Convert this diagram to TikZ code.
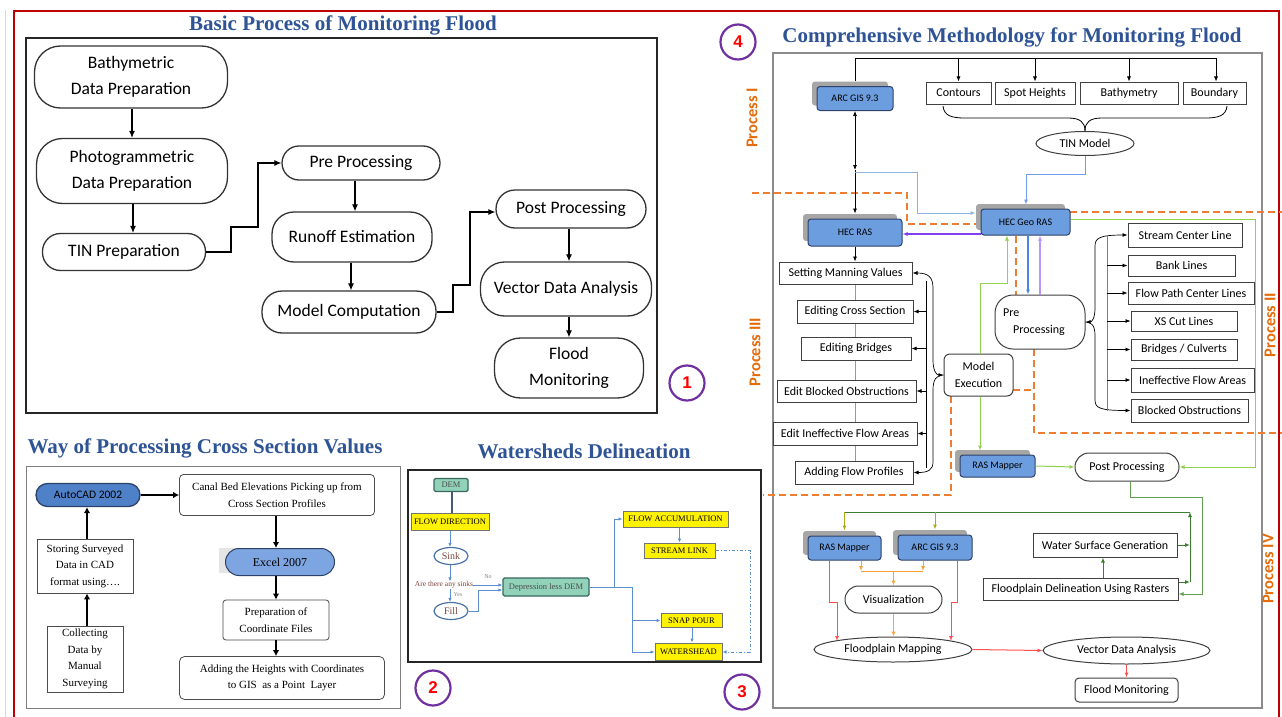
\documentclass[tikz,border=0pt]{standalone}
\usepackage{fontspec}
\setmainfont{Liberation Serif}
\newfontfamily\carl{Carlito}
\newfontfamily\lsans{Liberation Sans}
\usetikzlibrary{arrows.meta,shapes.geometric,shadows,calc}
\definecolor{ttlblue}{RGB}{46,84,150}
\definecolor{frred}{RGB}{192,0,0}
\definecolor{boxblue}{RGB}{108,157,222}
\definecolor{darkblue}{RGB}{79,129,200}
\definecolor{excelblue}{RGB}{125,165,225}
\definecolor{bordblue}{RGB}{45,65,105}
\definecolor{tealf}{RGB}{146,210,185}
\definecolor{tealb}{RGB}{55,105,95}
\definecolor{wline}{RGB}{91,143,208}
\definecolor{brownt}{RGB}{120,70,60}
\definecolor{procor}{RGB}{228,108,10}
\definecolor{dashor}{RGB}{237,125,49}
\definecolor{circp}{RGB}{112,48,160}
\definecolor{lgreen}{RGB}{146,208,80}
\definecolor{dgreen}{RGB}{60,125,50}
\definecolor{mgreen}{RGB}{100,160,80}
\definecolor{olivec}{RGB}{170,170,20}
\definecolor{redl}{RGB}{255,80,80}
\definecolor{orl}{RGB}{255,160,50}
\definecolor{viol}{RGB}{128,64,240}
\definecolor{lviol}{RGB}{185,150,255}
\definecolor{midblue}{RGB}{74,134,232}
\definecolor{lblue}{RGB}{141,180,226}
\definecolor{demline}{RGB}{70,90,120}
\tikzset{
  ttl/.style={text=ttlblue, font=\bfseries\fontsize{21}{24}\selectfont, inner sep=0pt},
  pa/.style={draw=black!80, line width=1.3pt, align=center, inner sep=0pt, font=\carl\fontsize{17.5}{25.5}\selectfont},
  aa/.style={line width=1.1pt, -{Latex[length=7pt,width=6pt]}},
  pb/.style={draw=black!70, line width=0.8pt, align=center, inner sep=0pt, font=\fontsize{11}{16.5}\selectfont},
  ab/.style={line width=2.2pt, -{Latex[length=6pt,width=6.5pt]}},
  yb/.style={draw=black!55, line width=1pt, fill=yellow, inner sep=0pt, font=\fontsize{8.5}{9}\selectfont},
  tb/.style={draw=tealb, line width=1.2pt, fill=tealf, rounded corners=1.5pt, inner sep=0pt, font=\fontsize{8.5}{9}\selectfont, text=black!70},
  wel/.style={ellipse, draw=wline!80!black, line width=1.2pt, inner sep=0pt, text=brownt, font=\fontsize{10}{10}\selectfont},
  aw/.style={draw=wline, line width=0.8pt, -{Latex[length=4pt,width=3.5pt]}},
  p4/.style={draw=black!75, line width=1pt, fill=white, inner sep=0pt, align=center, font=\carl\fontsize{12}{16.5}\selectfont},
  bb/.style={p4, fill=boxblue, draw=bordblue, rounded corners=3pt, font=\carl\fontsize{10}{11}\selectfont, drop shadow={shadow xshift=-5pt, shadow yshift=5pt, fill=black!35, opacity=1}},
  a4/.style={line width=0.7pt, -{Latex[length=5pt,width=4pt]}},
  d4/.style={line width=0.7pt, {Latex[length=5pt,width=4pt]}-{Latex[length=5pt,width=4pt]}},
  od/.style={draw=dashor, line width=1.8pt, dash pattern=on 7pt off 4pt},
  pl/.style={text=procor, font=\carl\bfseries\fontsize{16.5}{16.5}\selectfont, rotate=90, inner sep=0pt},
  circ/.style={circle, draw=circp, line width=2.2pt, minimum size=35pt, inner sep=0pt, text=red, font=\lsans\bfseries\fontsize{17}{17}\selectfont},
}
\begin{document}
\begin{tikzpicture}[x=1pt,y=-1pt]
\useasboundingbox (0,0) rectangle (1282,717);
\fill[white] (0,0) rectangle (1282,717);
% outer frame
\draw[black!15, line width=1pt] (5,10) -- (5,717);
\draw[frred, line width=1.5pt] (14,717) -- (14,11) -- (1279,11) -- (1279,717);

% ================= Panel 1
\draw[black!85, line width=1.3pt] (26,38) rectangle (657,413);
\node[ttl] (t1) at (343,25) {Basic Process of Monitoring Flood};
\node[pa, minimum width=193pt, minimum height=62pt, rounded corners=26pt] (bath) at (131,77) {Bathymetric\\Data Preparation};
\node[pa, minimum width=191pt, minimum height=65pt, rounded corners=26pt] (photo) at (132,171) {Photogrammetric\\Data Preparation};
\node[pa, minimum width=163pt, minimum height=37pt, rounded corners=18pt] (tin) at (124,252) {TIN Preparation};
\node[pa, minimum width=158pt, minimum height=34pt, rounded corners=17pt] (pre) at (361,163) {Pre Processing};
\node[pa, minimum width=160pt, minimum height=50pt, rounded corners=22pt] (runoff) at (352,237) {Runoff Estimation};
\node[pa, minimum width=174pt, minimum height=42pt, rounded corners=20pt] (model) at (349,312) {Model Computation};
\node[pa, minimum width=150pt, minimum height=38pt, rounded corners=19pt] (post) at (571,209) {Post Processing};
\node[pa, minimum width=171pt, minimum height=54pt, rounded corners=24pt] (vector) at (566,289) {Vector Data Analysis};
\node[pa, minimum width=149pt, minimum height=60pt, rounded corners=26pt] (flood) at (569,368) {Flood\\Monitoring};
\draw[aa] (132,0 |- bath.south) -- (132,0 |- photo.north);
\draw[aa] (133,0 |- photo.south) -- (133,0 |- tin.north);
\draw[aa] (tin.east) -- (231,252) -- (231,227) -- (258,227) -- (258,163) -- (pre.west);
\draw[aa] (355,0 |- pre.south) -- (355,0 |- runoff.north);
\draw[aa] (351,0 |- runoff.south) -- (351,0 |- model.north);
\draw[aa] (model.east) -- (453,312) -- (453,285) -- (470,285) -- (470,212) -- (post.west |- 0,212);
\draw[aa] (569,0 |- post.south) -- (569,0 |- vector.north);
\draw[aa] (569,0 |- vector.south) -- (569,0 |- flood.north);
\node[circ] (c1) at (687,383) {1};

% ================= Panel 2
\draw[black!50, line width=0.8pt] (26,466) rectangle (400,708);
\node[ttl] (t2) at (205,448) {Way of Processing Cross Section Values};
\node[pb, draw=bordblue, fill=darkblue, minimum width=104pt, minimum height=23pt, rounded corners=11.5pt, line width=1.3pt, font=\carl\fontsize{11.5}{12}\selectfont] (acad) at (88,495) {AutoCAD 2002};
\node[pb, minimum width=195pt, minimum height=41pt, rounded corners=4pt] (canal) at (277,495) {Canal Bed Elevations Picking up from\\Cross Section Profiles};
\node[pb, minimum width=96pt, minimum height=54pt] (store) at (85,566) {Storing Surveyed\\Data in CAD\\format using\ldots.};
\node[pb, minimum width=76pt, minimum height=66pt] (coll) at (85,659) {Collecting\\Data by\\Manual\\Surveying};
\fill[black!10] (219,548) rectangle (322,573);
\node[pb, draw=bordblue, fill=excelblue, minimum width=109pt, minimum height=27pt, rounded corners=13.5pt, line width=1pt, font=\fontsize{12}{12}\selectfont] (excel) at (280,562) {Excel 2007};
\node[pb, minimum width=106pt, minimum height=40pt, rounded corners=3pt] (prepc) at (276,620) {Preparation of\\Coordinate Files};
\node[pb, minimum width=205pt, minimum height=43pt, rounded corners=5pt] (addh) at (282,678) {Adding the Heights with Coordinates\\to GIS\ \ as a Point\ \ Layer};
\draw[ab] (acad.east) -- (canal.west);
\draw[ab] (87,0|-store.north) -- (87,0|-acad.south);
\draw[ab] (87,0|-coll.north) -- (87,0|-store.south);
\draw[ab] (276,0|-canal.south) -- (276,0|-excel.north);
\draw[ab] (276,0|-excel.south) -- (276,0|-prepc.north);
\draw[ab, line width=1.6pt] (276,0|-prepc.south) -- (276,0|-addh.north);
\node[circ] (c2) at (433,688) {2};

% ================= Panel 3
\draw[black!85, line width=1.3pt] (408,470) rectangle (761,662);
\node[ttl] (t3) at (584,451) {Watersheds Delineation};
\node[tb, minimum width=34pt, minimum height=13pt] (dem) at (451,485) {DEM};
\node[yb, minimum width=78pt, minimum height=17pt] (fd) at (450,521.5) {FLOW DIRECTION};
\node[wel, minimum width=34pt, minimum height=17pt] (sink) at (451,556) {Sink};
\node[text=brownt, font=\fontsize{7.5}{8}\selectfont, inner sep=0pt] (q) at (444,585) {Are there any sinks};
\node[text=black!50, font=\fontsize{6}{6}\selectfont, inner sep=0pt] (no) at (488,577) {No};
\node[text=black!50, font=\fontsize{6}{6}\selectfont, inner sep=0pt] (yes) at (458,595) {Yes};
\node[wel, minimum width=34pt, minimum height=17pt] (fillN) at (451,611) {Fill};
\node[tb, minimum width=86pt, minimum height=18pt] (dep) at (546,587) {Depression less DEM};
\node[yb, minimum width=105pt, minimum height=16pt] (fa) at (675.5,519) {FLOW ACCUMULATION};
\node[yb, minimum width=71pt, minimum height=15pt] (sl) at (679.5,550.5) {STREAM LINK};
\node[yb, minimum width=61pt, minimum height=14pt] (snap) at (691.5,620.5) {SNAP POUR};
\node[yb, minimum width=67pt, minimum height=17pt] (ws) at (688.5,651.5) {WATERSHEAD};
\draw[line width=2.5pt, draw=demline] (452,0|-dem.south) -- (452,0|-fd.north);
\draw[aw] (450,0|-fd.south) -- (450,0|-sink.north);
\draw[aw] (450,0|-sink.south) -- (450,0|-q.north);
\draw[aw] (450,0|-q.south) -- (450,0|-fillN.north);
\draw[aw] (q.east) -- (dep.west|-q.east);
\draw[aw] (fillN.east) -- (478,611) -- (478,590) -- (dep.west|-0,590);
\draw[aw] (dep.east) -- (614,587) -- (614,519) -- (fa.west);
\draw[aw] (614,587) -- (632,587) -- (632,620.5) -- (snap.west);
\draw[aw] (632,620) -- (632,652) -- (ws.west|-0,652);
\draw[aw] (679.5,0|-fa.south) -- (679.5,0|-sl.north);
\draw[aw] (692,0|-snap.south) -- (692,0|-ws.north);
\draw[aw, dash pattern=on 3pt off 2pt on 1pt off 2pt] (sl.east) -- (750,550.5) -- (750,652) -- (ws.east|-0,652);
\node[circ] (c3) at (742,692) {3};

% ================= Panel 4
\draw[black!45, line width=1.8pt] (773,53) rectangle (1262,708);
\node[ttl] (t4) at (1012,37) {Comprehensive Methodology for Monitoring Flood};
\node[circ] (c4) at (738,42) {4};
\node[pl] (pI) at (752,118) {Process I};
\node[pl] (pII) at (1270,325) {Process II};
\node[pl] (pIII) at (755,352) {Process III};
\node[pl] (pIV) at (1268,569) {Process IV};
% dashed process boundaries
\draw[od] (752,193) -- (907,193) -- (907,224) -- (977,224);
\draw[od] (1070,212) -- (1282,212);
\draw[od] (1016,236) -- (1016,295);
\draw[od] (1034,349) -- (1034,433) -- (1282,433);
\draw[od] (1013,390) -- (1034,390);
\draw[od] (951,396) -- (951,495) -- (763,495);

\node[bb, minimum width=76pt, minimum height=24pt] (arc1) at (855,98.5) {ARC GIS 9.3};
\node[p4, minimum width=65pt, minimum height=22pt] (contours) at (958.5,93) {Contours};
\node[p4, minimum width=80pt, minimum height=22pt] (spot) at (1035,93) {Spot Heights};
\node[p4, minimum width=98pt, minimum height=22pt] (bathy) at (1129,93) {Bathymetry};
\node[p4, minimum width=63pt, minimum height=22pt] (bound) at (1214.5,93) {Boundary};
\node[p4, ellipse, minimum width=98pt, minimum height=24pt] (tinm) at (1085,143.5) {TIN Model};
\node[bb, minimum width=94pt, minimum height=27pt] (hecras) at (855,232.5) {HEC RAS};
\node[bb, minimum width=89pt, minimum height=26pt] (hecgeo) at (1025.5,222) {HEC Geo RAS};
\node[p4, minimum width=133pt, minimum height=22pt] (smv) at (845.5,273) {Setting Manning Values};
\node[p4, minimum width=116pt, minimum height=23pt] (ecs) at (855,311.5) {Editing Cross Section};
\node[p4, minimum width=110pt, minimum height=23pt] (eb) at (856,348.5) {Editing Bridges};
\node[p4, minimum width=139pt, minimum height=22pt] (ebo) at (846.5,391) {Edit Blocked Obstructions};
\node[p4, minimum width=144pt, minimum height=23pt] (eifa) at (845,433.5) {Edit Ineffective Flow Areas};
\node[p4, minimum width=118pt, minimum height=23pt] (afp) at (854,472.5) {Adding Flow Profiles};
\node[p4, minimum width=69pt, minimum height=42pt, rounded corners=6pt] (modexec) at (978.5,375) {Model\\Execution};
\node[p4, minimum width=90pt, minimum height=54pt, rounded corners=18pt, align=left] (prep4) at (1040,322) {Pre\\\hspace*{10pt}Processing\hspace*{12pt}};
\node[p4, minimum width=114pt, minimum height=24pt] (scl) at (1185,235) {Stream Center Line};
\node[p4, minimum width=107pt, minimum height=21pt] (bl) at (1181.5,265.5) {Bank Lines};
\node[p4, minimum width=126pt, minimum height=22pt] (fpcl) at (1191,293) {Flow Path Center Lines};
\node[p4, minimum width=106pt, minimum height=20pt] (xs) at (1184,321) {XS Cut Lines};
\node[p4, minimum width=106pt, minimum height=21pt] (bc) at (1184,349.5) {Bridges / Culverts};
\node[p4, minimum width=123pt, minimum height=24pt] (ifa) at (1192.5,380) {Ineffective Flow Areas};
\node[p4, minimum width=117pt, minimum height=23pt] (bo) at (1189.5,410.5) {Blocked Obstructions};
\node[bb, minimum width=75pt, minimum height=22pt] (rasm1) at (997.5,466) {RAS Mapper};
\node[p4, minimum width=104pt, minimum height=28pt, rounded corners=14pt] (post4) at (1127,467) {Post Processing};
\node[bb, minimum width=73pt, minimum height=24pt] (rasm2) at (844.5,548) {RAS Mapper};
\node[bb, minimum width=74pt, minimum height=25pt] (arc2) at (935,547.5) {ARC GIS 9.3};
\node[p4, minimum width=144pt, minimum height=24pt] (wsg) at (1105,545) {Water Surface Generation};
\node[p4, minimum width=195pt, minimum height=22pt] (fdr) at (1080.5,589) {Floodplain Delineation Using Rasters};
\node[p4, minimum width=97pt, minimum height=27pt, rounded corners=13.5pt] (vis) at (893.5,599.5) {Visualization};
\node[p4, ellipse, minimum width=158pt, minimum height=25pt] (fpm) at (893,649.5) {Floodplain Mapping};
\node[p4, ellipse, minimum width=167pt, minimum height=27pt] (vda) at (1126.5,650.5) {Vector Data Analysis};
\node[p4, minimum width=103pt, minimum height=24pt, rounded corners=4pt] (fm) at (1126.5,690) {Flood Monitoring};

% Process I connectors
\draw[line width=0.7pt] ($(arc1.north)+(0,-5)$) -- (855,58) -- (1216,58);
\draw[a4] (958.5,58) -- (contours.north);
\draw[a4] (1035,58) -- (spot.north);
\draw[a4] (1129,58) -- (bathy.north);
\draw[a4] (1216,58) -- (1216,0|-bound.north);
\draw[line width=0.8pt] (943,106) .. controls (944,116) and (952,118) .. (965,118) -- (1068,118) .. controls (1080,118) and (1085,122) .. (tinm.north);
\draw[line width=0.8pt] (1227,106) .. controls (1226,116) and (1218,118) .. (1205,118) -- (1102,118) .. controls (1090,118) and (1085,122) .. (tinm.north);
\draw[a4, midblue!80!white, line width=1pt] (tinm.south) -- (1085,174) -- (1026,174) -- ($(1026,0|-hecgeo.north)+(0,-4)$);
\coordinate (j1) at (855,170);
\draw[d4] (855,0|-arc1.south) -- (j1);
\draw[a4] (j1) -- ($(855,0|-hecras.north)+(0,-5)$);
\draw[a4, lblue, line width=1pt] (855,172) -- (917,172) -- (917,213) -- ($(hecgeo.west|-0,213)+(-5,0)$);
% HEC connectors
\draw[a4, viol, line width=1.5pt] (hecgeo.west|-0,234) -- (hecras.east|-0,234);
\draw[a4, midblue, line width=1.5pt] (1028,0|-hecgeo.south) -- (1028,0|-prep4.north);
\draw[a4, lviol, line width=1.2pt] (1040,0|-prep4.north) -- (1040,0|-hecgeo.south);
\draw[a4, lgreen, line width=1pt] (980,0|-modexec.north) -- (980,283) -- (1007,283) -- (1007,0|-hecgeo.south);
\draw[a4, lgreen, line width=1pt] (980,0|-modexec.south) -- ($(980,0|-rasm1.north)+(0,-4)$);
\draw[a4, lgreen, line width=1pt] (rasm1.east) -- (post4.west);
\draw[a4, lgreen, line width=1pt] (hecgeo.east|-0,219) -- (1255,219) -- (1255,467) -- (post4.east);
% Process III list
\draw[a4] (855,0|-hecras.south) -- (855,0|-smv.north);
\foreach \u/\v in {smv/ecs, ecs/eb, eb/ebo, ebo/eifa, eifa/afp}
  \draw[black!40, line width=0.8pt] (855,0|-\u.south) -- (855,0|-\v.north);
\draw[line width=0.7pt] (926,281) -- (926,468);
\foreach \n in {ecs,eb,ebo,eifa}
  \draw[a4] (926,0|-\n.east) -- (\n.east);
\draw[d4] (smv.east) .. controls (928,273) and (933,277) .. (933,288) -- (933,360) .. controls (933,370) and (936,375) .. (modexec.west);
\draw[a4] (modexec.west) .. controls (936,375) and (933,380) .. (933,390) -- (933,462) .. controls (933,470) and (928,472.5) .. (afp.east);
% Process II list
\draw[d4] (prep4.east) .. controls (1092,322) and (1095,318) .. (1095,308) -- (1095,246) .. controls (1095,238) and (1100,235) .. (scl.west);
\draw[a4] (prep4.east) .. controls (1092,322) and (1095,326) .. (1095,336) -- (1095,400) .. controls (1095,408) and (1100,410.5) .. (bo.west);
\draw[black!50, line width=0.8pt] (1107,235) -- (1107,410.5);
\foreach \n in {bl,fpcl,xs,bc,ifa}
  \draw[a4] (1107,0|-\n.west) -- (\n.west);
% Process IV
\draw[a4, mgreen, line width=1pt] (1130,0|-post4.south) -- (1130,497) -- (1202,497) -- (1202,594) -- (fdr.east|-0,594);
\draw[a4, dgreen, line width=1pt] (fdr.east|-0,582) -- (1190,582);
\draw[a4, dgreen, line width=1pt] (wsg.east) -- (1190,0|-wsg.east);
\draw[a4, dgreen, line width=1pt] (1190,582) -- (1190,512);
\draw[dgreen, line width=1pt] (1190,512) -- (844.5,512);
\draw[a4, olivec, line width=1pt] (844.5,512) -- ($(rasm2.north)+(0,-5)$);
\draw[a4, olivec, line width=1pt] (935,512) -- ($(arc2.north)+(0,-5)$);
\draw[a4, dgreen, line width=1pt] (1103,0|-fdr.north) -- (1103,0|-wsg.south);
\draw[a4, orl, line width=1pt] (861,0|-rasm2.south) -- (861,571);
\draw[a4, orl, line width=1pt] (923,0|-arc2.south) -- (923,571);
\draw[orl, line width=1pt] (861,571) -- (923,571);
\draw[a4, orl, line width=1pt] (893.5,571) -- (vis.north);
\draw[a4, orl, line width=1pt] (vis.south) -- (vis.south|-fpm.north);
\draw[a4, redl, line width=1pt] (829,0|-rasm2.south) -- (829,602) -- (837,602) -- (837,641);
\draw[a4, redl, line width=1pt] (957,0|-arc2.south) -- (957,602) -- (951,602) -- (951,641);
\draw[a4, redl, line width=1pt] (fpm.east) -- (vda.west);
\draw[a4, redl, line width=1pt] (vda.south) -- (fm.north);
\end{tikzpicture}
\end{document}
